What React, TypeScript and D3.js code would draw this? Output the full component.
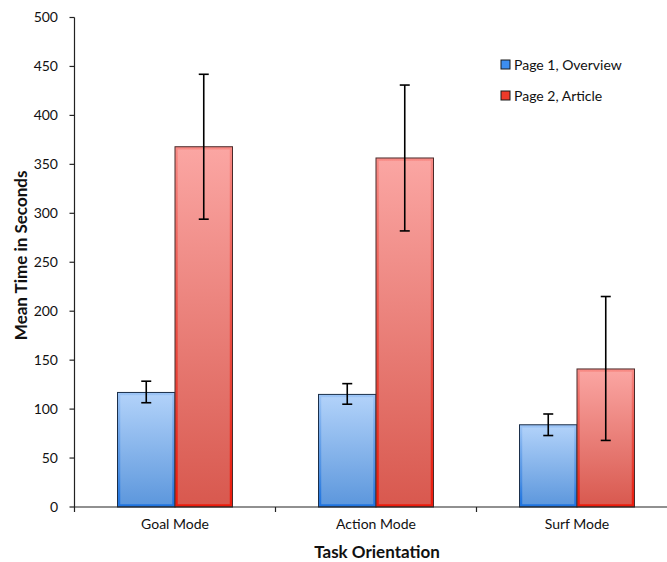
import React from "react";
import * as d3 from "d3";

const categories = ["Goal Mode", "Action Mode", "Surf Mode"];
const seriesNames = ["Page 1, Overview", "Page 2, Article"];
const overview = [117, 115, 84];
const article = [368, 356.5, 141];
const overviewLow = [106.5, 105, 73];
const overviewHigh = [128.5, 126, 95];
const articleLow = [294, 282, 68];
const articleHigh = [442, 431, 215];
const yTicks = [0, 50, 100, 150, 200, 250, 300, 350, 400, 450, 500];

const W = 667;
const H = 562;
const FONT = "Lato, 'Open Sans', sans-serif";

export default function App() {
  const left = 74.5;
  const bandW = 201;
  const x = d3
    .scaleBand<string>()
    .domain(categories)
    .range([left, left + bandW * categories.length])
    .paddingInner(0)
    .paddingOuter(0);
  const y = d3.scaleLinear().domain([0, 500]).range([507, 17.5]);
  const barW = 57.5;

  const series = [
    { vals: overview, lo: overviewLow, hi: overviewHigh, fill: "url(#gBlue)", border: "#1b2f4a", off: -barW },
    { vals: article, lo: articleLow, hi: articleHigh, fill: "url(#gRed)", border: "#4a2a2a", off: 0 },
  ];

  return (
    <svg width={W} height={H} style={{ display: "block", position: "absolute", left: 0, top: 0 }}>
      <defs>
        <linearGradient id="gBlue" x1="0" y1="0" x2="0" y2="1">
          <stop offset="0" stopColor="#b3d3fa" />
          <stop offset="1" stopColor="#5b96dc" />
        </linearGradient>
        <linearGradient id="gRed" x1="0" y1="0" x2="0" y2="1">
          <stop offset="0" stopColor="#fba6a3" />
          <stop offset="1" stopColor="#d8584e" />
        </linearGradient>
        <linearGradient id="eBlue" x1="0" y1="0" x2="0" y2="1">
          <stop offset="0" stopColor="#1f74e0" stopOpacity="0.15" />
          <stop offset="0.7" stopColor="#1f74e0" stopOpacity="0.5" />
          <stop offset="1" stopColor="#1f74e0" stopOpacity="1" />
        </linearGradient>
        <linearGradient id="eRed" x1="0" y1="0" x2="0" y2="1">
          <stop offset="0" stopColor="#ec1b0c" stopOpacity="0.2" />
          <stop offset="0.7" stopColor="#ec1b0c" stopOpacity="0.6" />
          <stop offset="1" stopColor="#ec1b0c" stopOpacity="1" />
        </linearGradient>
      </defs>
      <rect width={W} height={H} fill="#ffffff" />

      {series.map((s, si) =>
        categories.map((c, i) => {
          const cx = (x(c) as number) + x.bandwidth() / 2;
          const bx = cx + s.off;
          const top = y(s.vals[i]);
          const h = y(0) - top;
          return (
            <g key={`b${si}-${i}`}>
              <rect x={bx} y={top} width={barW} height={h} fill={s.fill} />
              <rect
                x={bx + 1.5}
                y={top + 1.5}
                width={barW - 3}
                height={h - 3}
                fill="none"
                stroke={si === 0 ? "url(#eBlue)" : "url(#eRed)"}
                strokeWidth={2.5}
              />
              <rect x={bx} y={top} width={barW} height={h} fill="none" stroke={s.border} strokeWidth={1} />
            </g>
          );
        })
      )}

      <line x1={left} x2={W} y1={y(0)} y2={y(0)} stroke="#222" strokeWidth={1.2} />
      <line x1={left} x2={left} y1={y(500)} y2={y(0) + 5} stroke="#222" strokeWidth={1.2} />
      {yTicks.map((t) => (
        <g key={`t${t}`}>
          <line x1={left - 5} x2={left} y1={y(t)} y2={y(t)} stroke="#222" strokeWidth={1.2} />
          <text x={58} y={y(t)} dy="0.35em" textAnchor="end" fontFamily={FONT} fontSize={14} fill="#111">
            {t}
          </text>
        </g>
      ))}
      {categories.map((c, i) => (
        <g key={`c${i}`}>
          <line
            x1={(x(c) as number) + bandW}
            x2={(x(c) as number) + bandW}
            y1={y(0)}
            y2={y(0) + 5}
            stroke="#222"
            strokeWidth={1.2}
          />
          <text
            x={(x(c) as number) + x.bandwidth() / 2}
            y={529}
            textAnchor="middle"
            fontFamily={FONT}
            fontSize={14}
            fill="#111"
          >
            {c}
          </text>
        </g>
      ))}

      {series.map((s, si) =>
        categories.map((c, i) => {
          const cx = (x(c) as number) + x.bandwidth() / 2 + s.off + barW / 2;
          const y1 = y(s.hi[i]);
          const y2 = y(s.lo[i]);
          return (
            <g key={`e${si}-${i}`} stroke="#000" strokeWidth={1.6}>
              <line x1={cx} x2={cx} y1={y1} y2={y2} />
              <line x1={cx - 5} x2={cx + 5} y1={y1} y2={y1} />
              <line x1={cx - 5} x2={cx + 5} y1={y2} y2={y2} />
            </g>
          );
        })
      )}

      <text
        transform={`translate(27,${y(257)}) rotate(-90)`}
        textAnchor="middle"
        fontFamily={FONT}
        fontWeight="bold"
        fontSize={17}
        fill="#111"
      >
        Mean Time in Seconds
      </text>
      <text x={377} y={558} textAnchor="middle" fontFamily={FONT} fontWeight="bold" fontSize={17} fill="#111">
        Task Orientation
      </text>

      {seriesNames.map((n, i) => (
        <g key={`l${i}`} transform={`translate(501,${60 + i * 31})`}>
          <rect x={0} y={0} width={9} height={9} fill={i === 0 ? "#3d8ef0" : "#ee3a2a"} stroke="#1a1a1a" strokeWidth={1} />
          <text x={13} y={5} dy="0.35em" fontFamily={FONT} fontSize={14} fill="#111">
            {n}
          </text>
        </g>
      ))}
    </svg>
  );
}
